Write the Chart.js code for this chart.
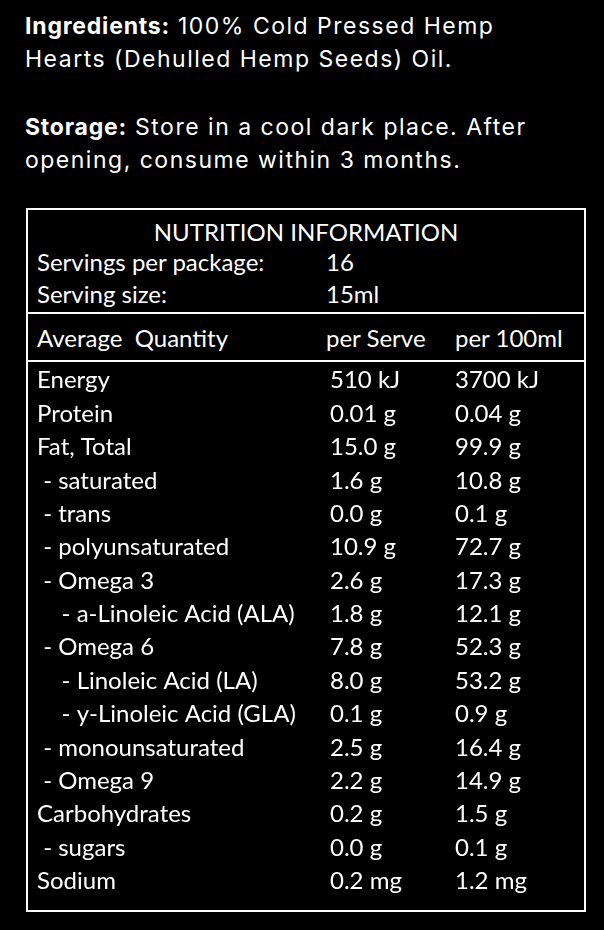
<!DOCTYPE html>
<html>
<head>
<meta charset="utf-8">
<script src="https://cdn.jsdelivr.net/npm/chart.js@4/dist/chart.umd.min.js"></script>
<style>
  body { margin:0; background:#000; color:#fff; width:604px; height:930px; position:relative; overflow:hidden; }
  .top { position:absolute; left:25px; font-family:Inter, sans-serif; font-size:23px; line-height:33px; letter-spacing:1.5px; }
  .top b { font-weight:700; letter-spacing:0.8px; }
  #box { position:absolute; left:26px; top:208px; width:556px; height:700px; border:2px solid #fff; font-family:Lato, sans-serif; font-size:24px; }
  .t { position:absolute; white-space:pre; line-height:26px; }
  .hr { position:absolute; left:0; width:556px; height:2px; background:#fff; }
  #wrap { position:absolute; left:0; top:152px; width:556px; height:546px; }
</style>
</head>
<body>
<div class="top" style="top:10px"><b>Ingredients:</b> 100% Cold Pressed Hemp<br>Hearts (Dehulled Hemp Seeds) Oil.</div>
<div class="top" style="top:111px"><b>Storage:</b> Store in a cool dark place. After<br>opening, consume within 3 months.</div>
<div id="box">
  <div class="t" style="left:0;width:556px;text-align:center;top:9px">NUTRITION INFORMATION</div>
  <div class="t" style="left:9px;top:39px">Servings per package:</div>
  <div class="t" style="left:298px;top:39px">16</div>
  <div class="t" style="left:9px;top:71px">Serving size:</div>
  <div class="t" style="left:298px;top:71px">15ml</div>
  <div class="hr" style="top:102px"></div>
  <div class="t" style="left:9px;top:115px">Average  Quantity</div>
  <div class="t" style="left:298px;top:115px">per Serve</div>
  <div class="t" style="left:427px;top:115px">per 100ml</div>
  <div class="hr" style="top:150px"></div>
  <div id="wrap"><canvas id="c"></canvas></div>
</div>
<script>
// rows of the label
var names = ["Energy", "Protein", "Fat, Total", " - saturated", " - trans", " - polyunsaturated",
  " - Omega 3", "    - a-Linoleic Acid (ALA)", " - Omega 6", "    - Linoleic Acid (LA)",
  "    - y-Linoleic Acid (GLA)", " - monounsaturated", " - Omega 9", "Carbohydrates", " - sugars", "Sodium"];
var perServe = [510, 0.01, 15.0, 1.6, 0.0, 10.9, 2.6, 1.8, 7.8, 8.0, 0.1, 2.5, 2.2, 0.2, 0.0, 0.2];
var per100ml = [3700, 0.04, 99.9, 10.8, 0.1, 72.7, 17.3, 12.1, 52.3, 53.2, 0.9, 16.4, 14.9, 1.5, 0.1, 1.2];
var units = ["kJ", "g", "g", "g", "g", "g", "g", "g", "g", "g", "g", "g", "g", "g", "g", "mg"];
var decimals = [0, 2, 1, 1, 1, 1, 1, 1, 1, 1, 1, 1, 1, 1, 1, 1];

function fmt(v, i) { return v.toFixed(decimals[i]) + " " + units[i]; }

var textPlugin = {
  id: 'rowText',
  afterDatasetsDraw: function(chart) {
    var ctx = chart.ctx, xs = chart.scales.x, ys = chart.scales.y;
    ctx.save();
    ctx.fillStyle = '#fff';
    ctx.font = '24px Lato';
    ctx.textBaseline = 'middle';
    names.forEach(function(n, i) {
      var y = ys.getPixelForValue(i);
      ctx.fillText(n, 9, y);
      ctx.fillText(fmt(perServe[i], i), xs.getPixelForValue(1), y);
      ctx.fillText(fmt(per100ml[i], i), xs.getPixelForValue(2), y);
    });
    ctx.restore();
  }
};

new Chart(document.getElementById('c'), {
  type: 'scatter',
  data: {
    labels: names,
    datasets: [
      { data: perServe.map(function(v, i) { return { x: 1, y: names[i] }; }), pointRadius: 0 },
      { data: per100ml.map(function(v, i) { return { x: 2, y: names[i] }; }), pointRadius: 0 }
    ]
  },
  options: {
    responsive: true, maintainAspectRatio: false, animation: false,
    layout: { padding: { top: 2, bottom: 10 } },
    plugins: { legend: { display: false }, tooltip: { enabled: false } },
    scales: {
      x: { type: 'linear', min: -1.416, max: 3.032, display: false },
      y: { type: 'category', labels: names, offset: true, display: false }
    }
  },
  plugins: [textPlugin]
});
</script>
</body>
</html>
